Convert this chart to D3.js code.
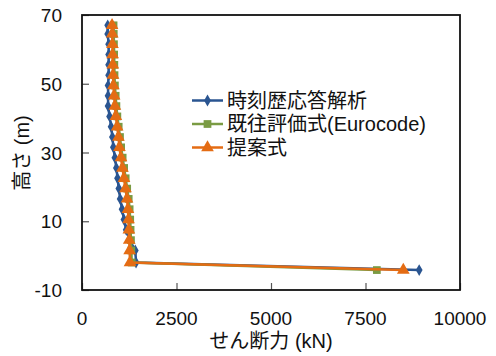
<!DOCTYPE html>
<html><head><meta charset="utf-8">
<script src="https://cdn.jsdelivr.net/npm/d3@7"></script>
<style>body{margin:0;background:#fff}svg{display:block}text{font-family:"Liberation Sans","Noto Sans CJK JP",sans-serif;fill:#111}</style>
</head><body>
<svg id="c" width="496" height="356"></svg>
<script>
const heights = [67,64.5,61.5,58.5,55.5,52.5,49.5,46.5,43.5,40.5,37.5,34.5,31.5,28.5,25.5,22.5,19.5,16.5,13.5,10.5,7.5,4.5,1.5,-2,-4.2];
const seriesNames = ["時刻歴応答解析","既往評価式(Eurocode)","提案式"];
const timeHistory = [680,680,705,705,705,705,690,690,690,730,770,805,830,870,910,940,975,1010,1060,1110,1170,1260,1410,1430,8920];
const eurocode = [835,840,845,850,855,860,870,890,910,935,970,1005,1035,1075,1115,1155,1195,1235,1260,1275,1285,1295,1305,1315,7800];
const proposed = [795,800,805,810,815,820,830,850,870,895,930,965,990,1030,1070,1110,1150,1190,1215,1230,1240,1250,1260,1270,8500];
const xTicks = [0,2500,5000,7500,10000];
const yTicks = [-10,10,30,50,70];
const xTitle = "せん断力 (kN)";
const yTitle = "高さ (m)";

const colors = ["#2A5591","#7A9B43","#E46C14"];
const shapes = [d3.symbolDiamond, d3.symbolSquare, d3.symbolTriangle];
const sizes = [40, 60, 70];
const allSeries = [timeHistory, eurocode, proposed];

const svg = d3.select("#c");
const L=82,T=15,R=460,B=290;
const x = d3.scaleLinear().domain([0,10000]).range([L,R]);
const y = d3.scaleLinear().domain([-10,70]).range([B,T]);

// ticks inside
svg.append("g").attr("transform",`translate(0,${B})`)
  .call(d3.axisBottom(x).tickValues(xTicks).tickSize(-7).tickFormat(""))
  .call(g=>{g.select(".domain").remove();g.selectAll("line").attr("stroke","#555").attr("stroke-width",1.2);});
svg.append("g").attr("transform",`translate(${L},0)`)
  .call(d3.axisLeft(y).tickValues(yTicks).tickSize(-7).tickFormat(""))
  .call(g=>{g.select(".domain").remove();g.selectAll("line").attr("stroke","#555").attr("stroke-width",1.2);});

// tick labels
svg.append("g").selectAll("text").data(xTicks).join("text")
  .attr("x",d=>x(d)).attr("y",325).attr("text-anchor","middle").attr("font-size",19).text(d=>d);
svg.append("g").selectAll("text").data(yTicks).join("text")
  .attr("x",62).attr("y",d=>y(d)+7).attr("text-anchor","end").attr("font-size",19).text(d=>d);

// titles
svg.append("text").attr("x",271).attr("y",348).attr("text-anchor","middle").attr("font-size",20).text(xTitle);
svg.append("text").attr("transform","translate(29,153) rotate(-90)").attr("text-anchor","middle").attr("font-size",20).text(yTitle);

// series
const line = d3.line().x(d=>x(d[0])).y(d=>y(d[1]));
allSeries.forEach((vals,i)=>{
  const pts = vals.map((v,j)=>[v,heights[j]]);
  svg.append("path").datum(pts).attr("d",line).attr("fill","none").attr("stroke",colors[i]).attr("stroke-width",2.5);
  svg.append("g").selectAll("path").data(pts).join("path")
    .attr("transform",d=>`translate(${x(d[0])},${y(d[1])})`)
    .attr("d",d3.symbol().type(shapes[i]).size(sizes[i])).attr("fill",colors[i]);
});

// frame
svg.append("rect").attr("x",L).attr("y",T).attr("width",R-L).attr("height",B-T)
  .attr("fill","none").attr("stroke","#111").attr("stroke-width",1.8);

// legend
const lg = svg.append("g");
seriesNames.forEach((n,i)=>{
  const yy = 100.5 + i*23.5;
  lg.append("line").attr("x1",192).attr("x2",223).attr("y1",yy).attr("y2",yy).attr("stroke",colors[i]).attr("stroke-width",2.5);
  lg.append("path").attr("transform",`translate(207.5,${yy})`).attr("d",d3.symbol().type(shapes[i]).size(sizes[i])).attr("fill",colors[i]);
  lg.append("text").attr("x",227).attr("y",yy+7).attr("font-size",20).text(n);
});
</script>
</body></html>
